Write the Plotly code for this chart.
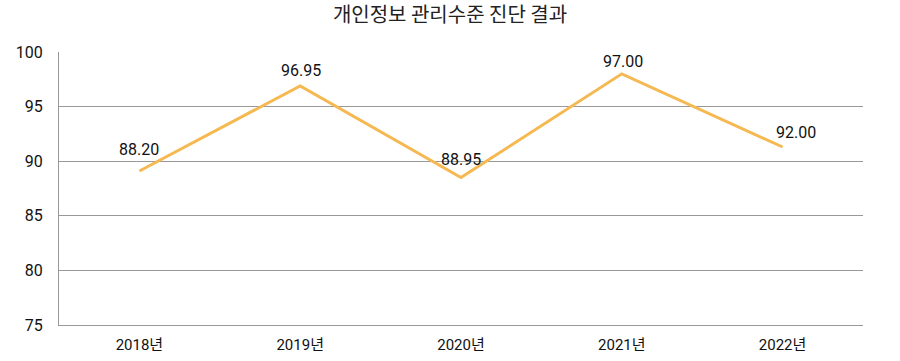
import plotly.graph_objects as go

years = ["2018년", "2019년", "2020년", "2021년", "2022년"]
scores = [89.1, 96.9, 88.5, 98.0, 91.3]
labels = ["88.20", "96.95", "88.95", "97.00", "92.00"]
y_ticks = [75, 80, 85, 90, 95, 100]

# label placement (style, not data)
label_yshift = [22, 15, 18, 12, 15]
label_xshift = [0, 1, 0, 1, 13]

FONT = "Roboto, 'Noto Sans CJK KR', sans-serif"

fig = go.Figure()
fig.add_trace(go.Scatter(
    x=years, y=scores, mode="lines",
    line=dict(color="#F6B851", width=3),
    hoverinfo="skip", showlegend=False,
))

for x, y, t, ys, xs in zip(years, scores, labels, label_yshift, label_xshift):
    fig.add_annotation(x=x, y=y, text=t, showarrow=False,
                       yshift=ys, xshift=xs,
                       font=dict(family=FONT, size=16, color="#111"))

fig.update_layout(
    width=900, height=361,
    margin=dict(l=59, r=37, t=52, b=36),
    paper_bgcolor="white", plot_bgcolor="white",
    title=dict(text="개인정보 관리수준 진단 결과", x=0.5, xanchor="center",
               y=0.958, yanchor="middle",
               font=dict(family="'Noto Sans CJK KR', sans-serif", size=20, color="#222")),
    font=dict(family=FONT, size=16, color="#111"),
)
fig.update_yaxes(range=[75, 100], tickvals=y_ticks, showgrid=True,
                 gridcolor="#999", gridwidth=1, zeroline=False,
                 showline=True, linecolor="#999", linewidth=1, automargin=False,
                 ticklabelstandoff=12, tickfont=dict(family=FONT, size=16, color="#111"))
fig.update_xaxes(range=[-0.5, 4.5], showgrid=False, showline=True,
                 linecolor="#999", linewidth=1, automargin=False,
                 ticklabelstandoff=6, tickfont=dict(family=FONT, size=15, color="#111"))

fig.write_html("out.html", config={"displayModeBar": False},
               post_script="document.body.style.margin='0';document.body.style.overflow='hidden';")
